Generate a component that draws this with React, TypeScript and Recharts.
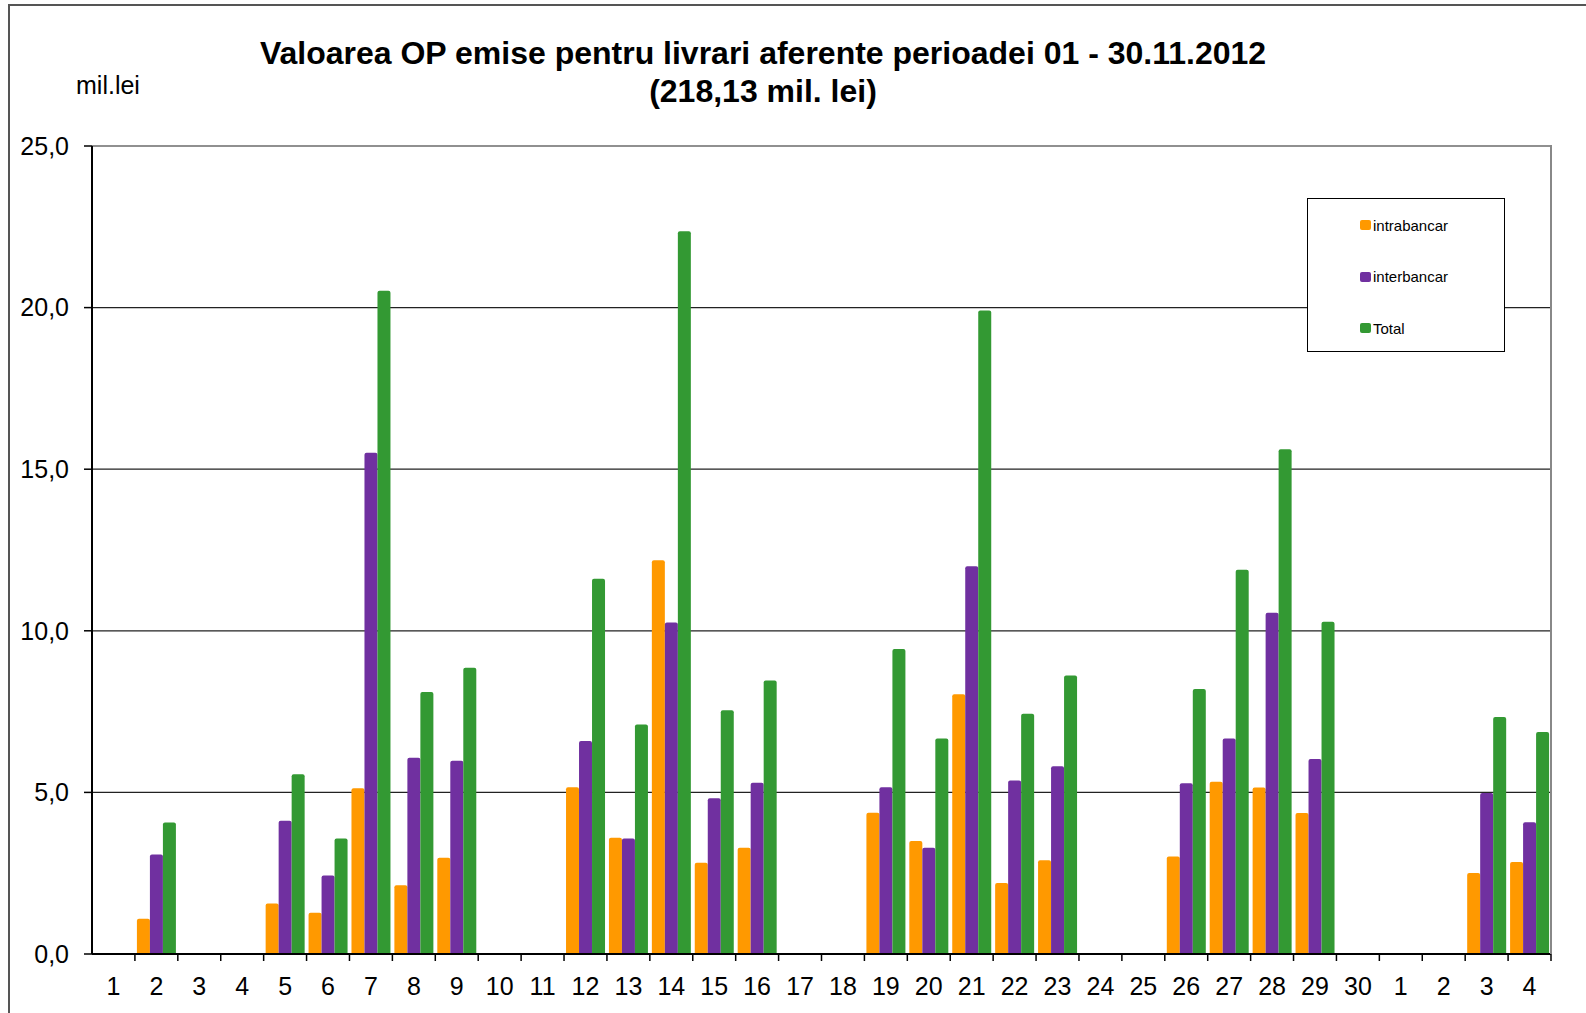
import React from 'react';
import { BarChart, Bar, XAxis, YAxis, CartesianGrid, Legend } from 'recharts';

const days = [
  '1', '2', '3', '4', '5', '6', '7', '8', '9', '10', '11', '12', '13', '14', '15', '16', '17',
  '18', '19', '20', '21', '22', '23', '24', '25', '26', '27', '28', '29', '30', '1', '2', '3', '4'
];

const intrabancar = [
  0, 1.09, 0, 0, 1.56, 1.28, 5.13, 2.13, 2.98, 0, 0, 5.16, 3.6, 12.18, 2.82, 3.29, 0,
  0, 4.37, 3.5, 8.04, 2.2, 2.9, 0, 0, 3.02, 5.33, 5.15, 4.36, 0, 0, 0, 2.51, 2.85
];

const interbancar = [
  0, 3.08, 0, 0, 4.12, 2.43, 15.51, 6.07, 5.98, 0, 0, 6.59, 3.57, 10.26, 4.82, 5.3, 0,
  0, 5.16, 3.29, 12.0, 5.37, 5.81, 0, 0, 5.28, 6.67, 10.56, 6.03, 0, 0, 0, 4.98, 4.08
];

const total = [
  0, 4.07, 0, 0, 5.56, 3.57, 20.52, 8.11, 8.86, 0, 0, 11.61, 7.1, 22.36, 7.54, 8.46, 0,
  0, 9.44, 6.67, 19.91, 7.43, 8.62, 0, 0, 8.2, 11.89, 15.62, 10.28, 0, 0, 0, 7.33, 6.87
];

const yTicks = [0, 5, 10, 15, 20, 25];

const COLORS = {
  intrabancar: '#FF9900',
  interbancar: '#7030A0',
  total: '#339933'
};

const legendItems = [
  { name: 'intrabancar', color: COLORS.intrabancar },
  { name: 'interbancar', color: COLORS.interbancar },
  { name: 'Total', color: COLORS.total }
];

const data = days.map((d, i) => ({
  day: d,
  intrabancar: intrabancar[i],
  interbancar: interbancar[i],
  total: total[i]
}));

const W = 1586;
const H = 1013;
const PLOT_LEFT = 92;
const PLOT_RIGHT = 35;
const PLOT_TOP = 146;
const X_AXIS_H = 59;
const PLOT_BOTTOM = H - X_AXIS_H;
const BAND = (W - PLOT_LEFT - PLOT_RIGHT) / days.length;
const FONT = '"Liberation Sans", Arial, sans-serif';

const fmt = (v: number) => v.toFixed(1).replace('.', ',');

// ticks sit between the days, labels in the middle
const DayTick = ({ x, y, payload }: any) => (
  <g>
    <line x1={x + BAND / 2} y1={y} x2={x + BAND / 2} y2={y + 7} stroke="#000" strokeWidth={1.5} />
    <text x={x} y={y + 41} textAnchor="middle" fontSize={25} fontFamily={FONT} fill="#000">
      {payload.value}
    </text>
  </g>
);

const LegendBox = () => (
  <div
    style={{
      width: 198,
      height: 154,
      border: '1.5px solid #000',
      boxSizing: 'border-box',
      background: '#fff',
      position: 'relative',
      fontFamily: FONT
    }}
  >
    {legendItems.map((item, i) => (
      <div
        key={item.name}
        style={{
          position: 'absolute',
          left: 52,
          top: 26 + i * 51.5 - 9,
          height: 18,
          display: 'flex',
          alignItems: 'center',
          fontSize: 15,
          color: '#000'
        }}
      >
        <span
          style={{
            display: 'inline-block',
            width: 11,
            height: 10,
            borderRadius: 2,
            background: item.color,
            marginRight: 2
          }}
        />
        {item.name}
      </div>
    ))}
  </div>
);

const App: React.FC = () => {
  return (
    <div style={{ position: 'absolute', left: 0, top: 0, width: W, height: H, background: '#fff', overflow: 'hidden' }}>
      <div
        style={{
          position: 'absolute',
          left: 8,
          top: 4,
          width: W,
          height: H,
          borderLeft: '2px solid #555',
          borderTop: '2px solid #555'
        }}
      />
      <div
        style={{
          position: 'absolute',
          left: 0,
          width: W,
          top: 34,
          textAlign: 'center',
          fontFamily: FONT,
          fontWeight: 'bold',
          fontSize: 32,
          lineHeight: '38px',
          color: '#000'
        }}
      >
        <div style={{ position: 'relative', left: -30 }}>Valoarea OP emise pentru livrari aferente perioadei 01 - 30.11.2012</div>
        <div style={{ position: 'relative', left: -30 }}>(218,13 mil. lei)</div>
      </div>
      <div
        style={{
          position: 'absolute',
          left: 76,
          top: 71,
          fontFamily: FONT,
          fontSize: 25,
          color: '#000'
        }}
      >
        mil.lei
      </div>
      <BarChart
        width={W}
        height={H}
        data={data}
        margin={{ top: PLOT_TOP, right: PLOT_RIGHT, left: 0, bottom: 0 }}
        barCategoryGap={2}
        barGap={0}
        style={{ position: 'absolute', left: 0, top: 0 }}
      >
        <CartesianGrid vertical={false} stroke="#222" strokeWidth={1.2} />
        <XAxis
          dataKey="day"
          height={X_AXIS_H}
          tickSize={0}
          tickMargin={0}
          tickLine={false}
          interval={0}
          tick={<DayTick />}
          axisLine={{ stroke: '#000', strokeWidth: 2 }}
        />
        <XAxis
          xAxisId="top"
          orientation="top"
          height={0}
          tick={false}
          tickLine={false}
          axisLine={{ stroke: '#888', strokeWidth: 2.5 }}
        />
        <YAxis
          domain={[0, 25]}
          ticks={yTicks}
          width={PLOT_LEFT}
          tickFormatter={fmt}
          tickSize={8}
          tickMargin={15}
          interval={0}
          tick={{ fontSize: 25, fill: '#000', fontFamily: FONT }}
          tickLine={{ stroke: '#000', strokeWidth: 1.5 }}
          axisLine={{ stroke: '#000', strokeWidth: 2 }}
        />
        <Legend
          layout="horizontal"
          verticalAlign="middle"
          align="center"
          content={<LegendBox />}
          wrapperStyle={{ left: 1307, top: 198, width: 198, height: 154 }}
        />
        <Bar dataKey="intrabancar" fill={COLORS.intrabancar} radius={[2, 2, 0, 0]} isAnimationActive={false} />
        <Bar dataKey="interbancar" fill={COLORS.interbancar} radius={[2, 2, 0, 0]} isAnimationActive={false} />
        <Bar dataKey="total" fill={COLORS.total} radius={[2, 2, 0, 0]} isAnimationActive={false} />
      </BarChart>
      {/* grey right edge of the plot area */}
      <div
        style={{
          position: 'absolute',
          left: W - PLOT_RIGHT - 1,
          top: PLOT_TOP - 1,
          width: 0,
          height: PLOT_BOTTOM - PLOT_TOP + 1,
          borderRight: '2.5px solid #888',
          pointerEvents: 'none'
        }}
      />
    </div>
  );
};

export default App;
